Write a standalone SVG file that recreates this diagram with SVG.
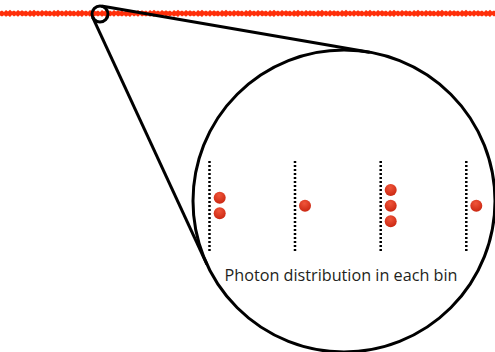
<svg xmlns="http://www.w3.org/2000/svg" width="495" height="352" viewBox="0 0 495 352">
<style>
.outline{fill:none;stroke:#000;stroke-width:3}
.bin{stroke:#000;stroke-width:2.5;stroke-dasharray:2 2}
.photon{fill:url(#pg)}
.label{font-family:"Open Sans","Liberation Sans",sans-serif;font-size:16.2px;fill:#231f20}
</style>
<defs>
<radialGradient id="pg" cx="0.45" cy="0.3" r="0.75">
<stop offset="0" stop-color="#f0553a"/>
<stop offset="1" stop-color="#c8240f"/>
</radialGradient>
<pattern id="noise" x="0" y="9" width="24" height="9" patternUnits="userSpaceOnUse">
<path d="M0,2.5 L2,1.5 L4,3 L6,1 L8,2.5 L10,0.8 L12,2.5 L14,1.5 L16,2.8 L18,1 L20,2.5 L22,1.2 L24,2.5 L24,6.5 L22,7.5 L20,6 L18,7.8 L16,6.2 L14,7.5 L12,6 L10,8 L8,6.5 L6,7.8 L4,6.2 L2,7.5 L0,6.5 Z" fill="#ff2f0a"/>
</pattern>
</defs>
<g id="signal">
<rect x="0" y="9" width="495" height="9" fill="url(#noise)"/>
</g>
<g id="connectors">
<line class="outline" x1="101.4" y1="6.1" x2="369.7" y2="52.3"/>
<line class="outline" x1="92.7" y1="17.4" x2="206.9" y2="264.3"/>
</g>
<g id="small-lens">
<circle class="outline" cx="100" cy="14" r="8"/>
</g>
<g id="magnified">
<circle class="outline" cx="344" cy="201" r="151"/>
</g>
<g id="bin1">
<line class="bin" x1="209.5" y1="161" x2="209.5" y2="251"/>
<circle class="photon" cx="219.7" cy="197.7" r="6"/>
<circle class="photon" cx="219.7" cy="213.3" r="6"/>
</g>
<g id="bin2">
<line class="bin" x1="295" y1="161" x2="295" y2="251"/>
<circle class="photon" cx="305" cy="205.7" r="6"/>
</g>
<g id="bin3">
<line class="bin" x1="380.7" y1="161" x2="380.7" y2="251"/>
<circle class="photon" cx="390.7" cy="190" r="6"/>
<circle class="photon" cx="390.7" cy="205.7" r="6"/>
<circle class="photon" cx="390.7" cy="221.3" r="6"/>
</g>
<g id="bin4">
<line class="bin" x1="466.3" y1="161" x2="466.3" y2="251"/>
<circle class="photon" cx="476.3" cy="205.7" r="6"/>
</g>
<g id="caption">
<text class="label" x="341" y="280.7" text-anchor="middle">Photon distribution in each bin</text>
</g>
</svg>
